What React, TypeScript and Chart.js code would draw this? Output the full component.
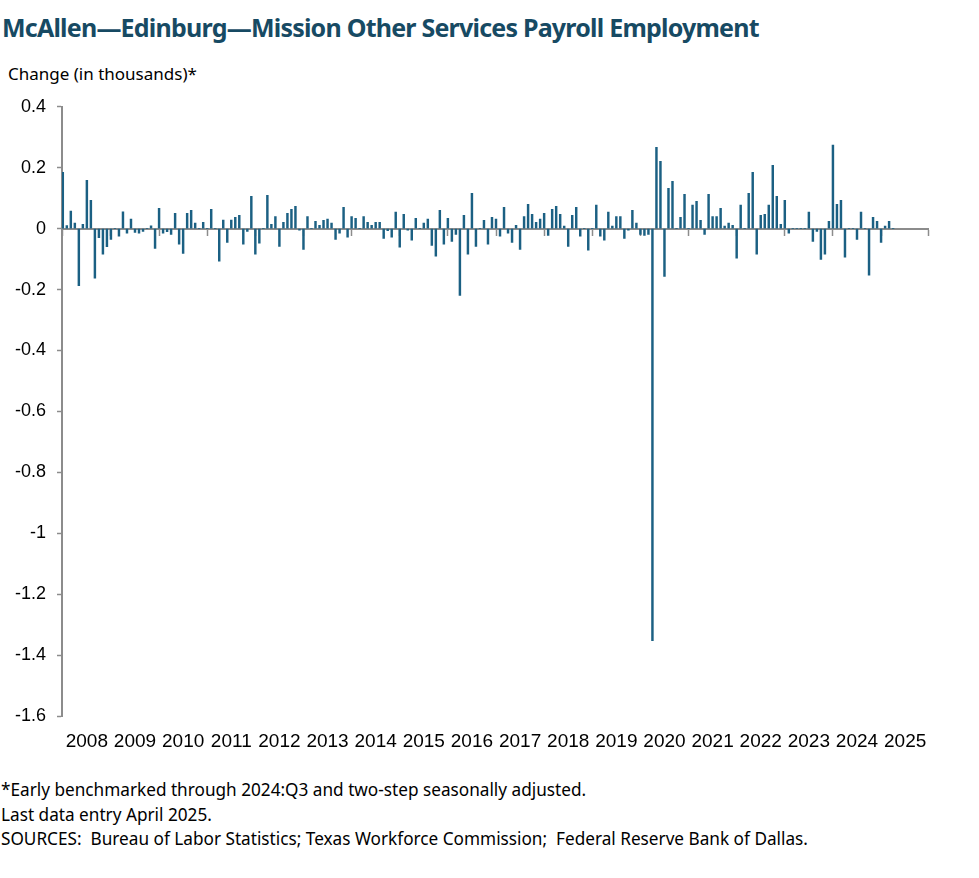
import { useEffect, useRef } from 'react';
import { Chart, registerables } from 'chart.js';

Chart.register(...registerables);

// monthly change in payroll employment, thousands (Jan 2008 - Apr 2025)
const change2008 = [0.185, 0.01, 0.058, 0.018, -0.187, 0.014, 0.159, 0.093, -0.163, -0.03, -0.084, -0.059];
const change2009 = [-0.035, 0, -0.025, 0.055, -0.015, 0.031, -0.012, -0.015, -0.009, 0, 0.009, -0.065];
const change2010 = [0.067, -0.015, -0.01, -0.019, 0.05, -0.051, -0.081, 0.05, 0.06, 0.018, 0, 0.021];
const change2011 = [0, 0.063, 0, -0.107, 0.028, -0.045, 0.028, 0.037, 0.044, -0.051, -0.009, 0.106];
const change2012 = [-0.084, -0.048, 0, 0.109, 0.014, 0.04, -0.058, 0.021, 0.05, 0.063, 0.073, -0.005];
const change2013 = [-0.068, 0.04, 0, 0.024, 0.011, 0.027, 0.031, 0.018, -0.035, -0.015, 0.07, -0.028];
const change2014 = [0.04, 0.034, 0, 0.04, 0.021, 0.011, 0.021, 0.021, -0.032, -0.007, -0.028, 0.054];
const change2015 = [-0.061, 0.047, -0.005, -0.038, 0.034, 0, 0.018, 0.031, -0.055, -0.09, 0.06, -0.051];
const change2016 = [0.034, -0.042, -0.019, -0.219, 0.044, -0.084, 0.116, -0.058, 0, 0.027, -0.051, 0.037];
const change2017 = [0.031, -0.025, 0.07, -0.015, -0.045, 0.011, -0.068, 0.04, 0.08, 0.047, 0.021, 0.031];
const change2018 = [0.05, -0.022, 0.063, 0.073, 0.047, 0.008, -0.058, 0.044, 0.07, -0.025, 0, -0.071];
const change2019 = [0, 0.077, -0.025, -0.038, 0.054, 0.008, 0.04, 0.04, -0.032, -0.005, 0.06, 0.018];
const change2020 = [-0.019, -0.022, -0.019, -1.353, 0.267, 0.221, -0.157, 0.132, 0.155, 0, 0.037, 0.113];
const change2021 = [0, 0.077, 0.09, 0.027, -0.019, 0.113, 0.04, 0.04, 0.067, 0.008, 0.018, 0.011];
const change2022 = [-0.097, 0.077, 0, 0.116, 0.185, -0.084, 0.044, 0.047, 0.077, 0.208, 0.106, 0.014];
const change2023 = [0.093, -0.015, 0, 0, 0, 0, 0.054, -0.042, -0.009, -0.101, -0.084, 0.024];
const change2024 = [0.274, 0.08, 0.093, -0.094, 0, 0, -0.035, 0.054, 0, -0.153, 0.037, 0.024];
const change2025 = [-0.045, 0.008, 0.024, 0];

const monthlyChange = [
  ...change2008, ...change2009, ...change2010, ...change2011, ...change2012, ...change2013,
  ...change2014, ...change2015, ...change2016, ...change2017, ...change2018, ...change2019,
  ...change2020, ...change2021, ...change2022, ...change2023, ...change2024, ...change2025,
];

const yearLabels = ['2008', '2009', '2010', '2011', '2012', '2013', '2014', '2015', '2016',
  '2017', '2018', '2019', '2020', '2021', '2022', '2023', '2024', '2025'];

const yMin = -1.6;
const yMax = 0.4;
const yStep = 0.2;

const title = 'McAllen\u2014Edinburg\u2014Mission Other Services Payroll Employment';
const yTitle = 'Change (in thousands)*';
const footNotes = [
  '*Early benchmarked through 2024:Q3 and two-step seasonally adjusted.',
  'Last data entry April 2025.',
  'SOURCES:  Bureau of Labor Statistics; Texas Workforce Commission;  Federal Reserve Bank of Dallas.',
];

const BAR = '#1b6083';
const AXIS = '#8c8c8c';
const FONT = "'Noto Sans', sans-serif";
const TICK_FONT = "'Liberation Sans', Arial, sans-serif";

const xMin = -0.2;
const xMax = yearLabels.length * 12 - 0.3;

export default function App() {
  const canvasRef = useRef<HTMLCanvasElement>(null);
  const chartRef = useRef<Chart | null>(null);

  useEffect(() => {
    if (!canvasRef.current) return;
    chartRef.current?.destroy();

    chartRef.current = new Chart(canvasRef.current, {
      type: 'bar',
      data: {
        datasets: [{
          data: monthlyChange.map((v, i) => ({ x: i, y: v })),
          backgroundColor: BAR,
          barThickness: 1.8,
          xAxisID: 'x',
          yAxisID: 'y',
        }],
      },
      options: {
        animation: false,
        responsive: true,
        maintainAspectRatio: false,
        layout: { padding: { top: 0, right: 51, left: 0, bottom: 0 } },
        plugins: { legend: { display: false }, tooltip: { enabled: false } },
        scales: {
          // axis line drawn through zero, with year tick marks
          x: {
            type: 'linear',
            position: { y: 0 },
            offset: false,
            min: xMin,
            max: xMax,
            afterBuildTicks: (scale) => {
              const t = yearLabels.map((_, k) => ({ value: k * 12 }));
              t.push({ value: xMax });
              scale.ticks = t;
            },
            ticks: { display: false },
            grid: { offset: false, drawOnChartArea: false, drawTicks: true, tickLength: 6, tickColor: AXIS, tickWidth: 1.5 },
            border: { color: AXIS, width: 2 },
          },
          // year labels along the bottom
          xLabels: {
            type: 'linear',
            position: 'bottom',
            offset: false,
            min: xMin,
            max: xMax,
            afterBuildTicks: (scale) => {
              scale.ticks = yearLabels.map((_, k) => ({ value: k * 12 + 6 }));
            },
            afterFit: (scale) => { scale.height = 44; },
            ticks: {
              autoSkip: false,
              maxRotation: 0,
              padding: 14,
              color: '#000',
              font: { family: TICK_FONT, size: 19 },
              callback: (v) => yearLabels[Math.round((Number(v) - 6) / 12)] ?? '',
            },
            grid: { display: false, drawTicks: false, offset: false },
            border: { display: false },
          },
          y: {
            min: yMin,
            max: yMax,
            afterFit: (scale) => { scale.width = 62; },
            ticks: {
              stepSize: yStep,
              padding: 11,
              color: '#000',
              font: { family: TICK_FONT, size: 18 },
              callback: (v) => {
                const n = Number(Number(v).toFixed(1));
                return n === 0 ? '0' : String(n);
              },
            },
            grid: { drawOnChartArea: false, tickLength: 5, tickColor: AXIS, tickWidth: 1.5 },
            border: { color: AXIS, width: 2 },
          },
        },
      },
    });

    return () => {
      chartRef.current?.destroy();
      chartRef.current = null;
    };
  }, []);

  return (
    <div style={{ position: 'absolute', left: 0, top: 0, width: 979, height: 878, background: '#fff', fontFamily: FONT, color: '#000' }}>
      <div style={{ position: 'absolute', left: 2, top: 10, fontSize: 25, fontWeight: 700, color: '#174a63', whiteSpace: 'nowrap', letterSpacing: -0.78 }}>
        {title}
      </div>
      <div style={{ position: 'absolute', left: 8, top: 62, fontSize: 17, whiteSpace: 'nowrap' }}>{yTitle}</div>
      <div style={{ position: 'absolute', left: 0, top: 85, width: 979, height: 675 }}>
        <canvas ref={canvasRef}></canvas>
      </div>
      {footNotes.map((line, i) => (
        <div key={i} style={{ position: 'absolute', left: 1, top: 778 + i * 24.5, fontSize: 17.2, whiteSpace: 'pre' }}>
          {line}
        </div>
      ))}
    </div>
  );
}
